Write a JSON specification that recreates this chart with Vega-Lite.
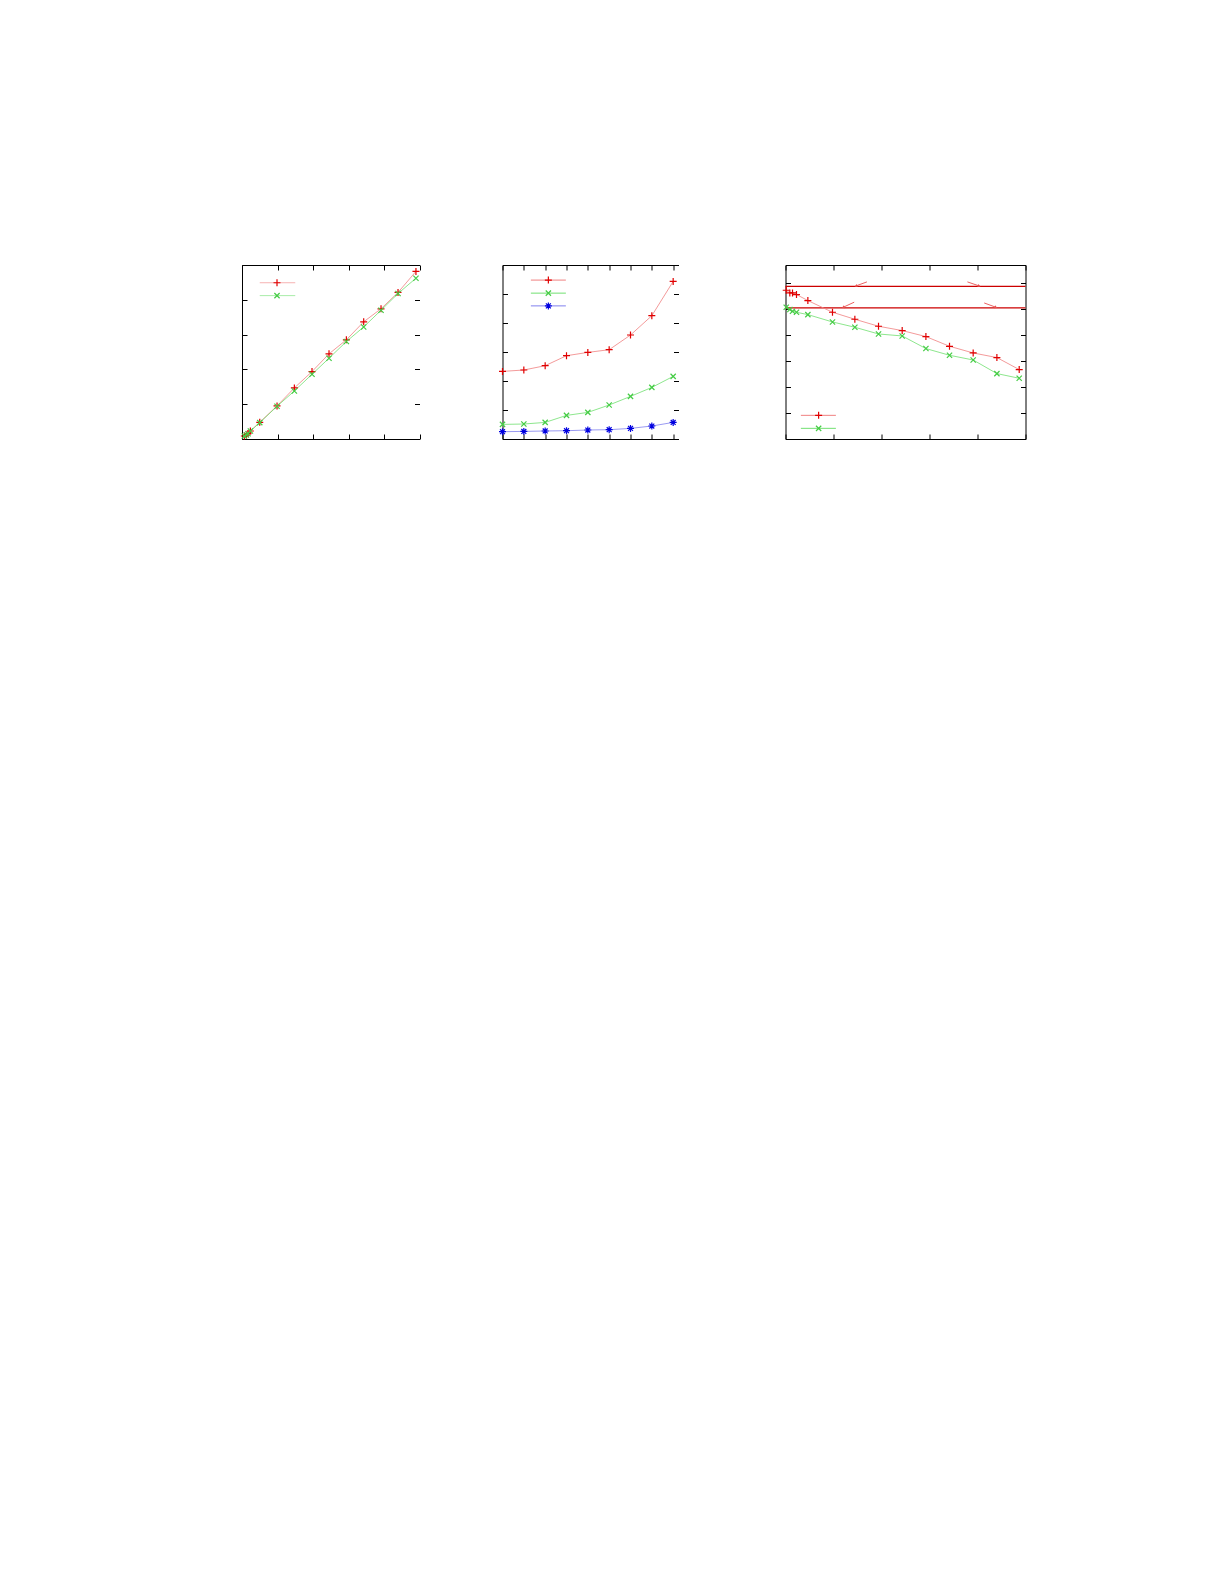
{
  "$schema": "https://vega.github.io/schema/vega-lite/v6.json",
  "padding": {"left": 238, "top": 264, "right": 0, "bottom": 0},
  "background": "white",
  "datasets": {
    "p1": [
      {"series": "a", "x": 0.066, "y": 0.086}, {"series": "a", "x": 0.123, "y": 0.115}, {"series": "a", "x": 0.17, "y": 0.153},
      {"series": "a", "x": 0.236, "y": 0.23}, {"series": "a", "x": 0.5, "y": 0.48}, {"series": "a", "x": 0.987, "y": 0.95},
      {"series": "a", "x": 1.475, "y": 1.468}, {"series": "a", "x": 1.972, "y": 1.937}, {"series": "a", "x": 2.451, "y": 2.447},
      {"series": "a", "x": 2.94, "y": 2.85}, {"series": "a", "x": 3.428, "y": 3.368}, {"series": "a", "x": 3.916, "y": 3.742},
      {"series": "a", "x": 4.395, "y": 4.211}, {"series": "a", "x": 4.9, "y": 4.816},
      {"series": "b", "x": 0.066, "y": 0.086}, {"series": "b", "x": 0.123, "y": 0.115}, {"series": "b", "x": 0.17, "y": 0.153},
      {"series": "b", "x": 0.236, "y": 0.23}, {"series": "b", "x": 0.5, "y": 0.47}, {"series": "b", "x": 0.987, "y": 0.94},
      {"series": "b", "x": 1.475, "y": 1.381}, {"series": "b", "x": 1.972, "y": 1.86}, {"series": "b", "x": 2.451, "y": 2.321},
      {"series": "b", "x": 2.94, "y": 2.8}, {"series": "b", "x": 3.428, "y": 3.22}, {"series": "b", "x": 3.916, "y": 3.7},
      {"series": "b", "x": 4.395, "y": 4.18}, {"series": "b", "x": 4.9, "y": 4.62}
    ],
    "l1": [
      {"series": "a", "x": 0.5, "x2": 1.5, "y": 4.49, "xm": 0.986},
      {"series": "b", "x": 0.5, "x2": 1.5, "y": 4.12, "xm": 0.986}
    ],
    "p2": [
      {"series": "a", "x": 0, "y": 2.331}, {"series": "a", "x": 1, "y": 2.379}, {"series": "a", "x": 2, "y": 2.528},
      {"series": "a", "x": 3, "y": 2.872}, {"series": "a", "x": 4, "y": 2.986}, {"series": "a", "x": 5, "y": 3.079},
      {"series": "a", "x": 6, "y": 3.586}, {"series": "a", "x": 7, "y": 4.252}, {"series": "a", "x": 8, "y": 5.434},
      {"series": "b", "x": 0, "y": 0.503}, {"series": "b", "x": 1, "y": 0.517}, {"series": "b", "x": 2, "y": 0.572},
      {"series": "b", "x": 3, "y": 0.814}, {"series": "b", "x": 4, "y": 0.917}, {"series": "b", "x": 5, "y": 1.172},
      {"series": "b", "x": 6, "y": 1.469}, {"series": "b", "x": 7, "y": 1.779}, {"series": "b", "x": 8, "y": 2.159},
      {"series": "c", "x": 0, "y": 0.252}, {"series": "c", "x": 1, "y": 0.262}, {"series": "c", "x": 2, "y": 0.276},
      {"series": "c", "x": 3, "y": 0.286}, {"series": "c", "x": 4, "y": 0.31}, {"series": "c", "x": 5, "y": 0.321},
      {"series": "c", "x": 6, "y": 0.366}, {"series": "c", "x": 7, "y": 0.448}, {"series": "c", "x": 8, "y": 0.572}
    ],
    "l2": [
      {"series": "a", "x": 1.33, "x2": 2.97, "y": 5.48, "xm": 2.15},
      {"series": "b", "x": 1.33, "x2": 2.97, "y": 5.03, "xm": 2.15},
      {"series": "c", "x": 1.33, "x2": 2.97, "y": 4.59, "xm": 2.15}
    ],
    "p3": [
      {"series": "a", "x": 0.015, "y": 5.72}, {"series": "a", "x": 0.09, "y": 5.615}, {"series": "a", "x": 0.146, "y": 5.615},
      {"series": "a", "x": 0.229, "y": 5.554}, {"series": "a", "x": 0.466, "y": 5.323}, {"series": "a", "x": 0.979, "y": 4.873},
      {"series": "a", "x": 1.445, "y": 4.604}, {"series": "a", "x": 1.938, "y": 4.335}, {"series": "a", "x": 2.431, "y": 4.169},
      {"series": "a", "x": 2.925, "y": 3.938}, {"series": "a", "x": 3.417, "y": 3.565}, {"series": "a", "x": 3.91, "y": 3.308},
      {"series": "a", "x": 4.404, "y": 3.131}, {"series": "a", "x": 4.869, "y": 2.669},
      {"series": "b", "x": 0.015, "y": 5.065}, {"series": "b", "x": 0.09, "y": 4.977}, {"series": "b", "x": 0.146, "y": 4.912},
      {"series": "b", "x": 0.229, "y": 4.873}, {"series": "b", "x": 0.466, "y": 4.783}, {"series": "b", "x": 0.979, "y": 4.5},
      {"series": "b", "x": 1.445, "y": 4.296}, {"series": "b", "x": 1.938, "y": 4.038}, {"series": "b", "x": 2.431, "y": 3.962},
      {"series": "b", "x": 2.925, "y": 3.477}, {"series": "b", "x": 3.417, "y": 3.219}, {"series": "b", "x": 3.91, "y": 3.038},
      {"series": "b", "x": 4.404, "y": 2.515}, {"series": "b", "x": 4.869, "y": 2.335}
    ],
    "l3": [
      {"series": "a", "x": 0.32, "x2": 1.05, "y": 0.91, "xm": 0.69},
      {"series": "b", "x": 0.32, "x2": 1.05, "y": 0.41, "xm": 0.69}
    ],
    "h3": [{"y": 5.87}, {"y": 5.04}],
    "a3": [
      {"x": 1.696, "y": 6.04, "x2": 1.467, "y2": 5.885},
      {"x": 3.79, "y": 6.04, "x2": 4.035, "y2": 5.885},
      {"x": 1.431, "y": 5.26, "x2": 1.202, "y2": 5.065},
      {"x": 4.14, "y": 5.23, "x2": 4.383, "y2": 5.065}
    ]
  },
  "bounds": "flush",
  "spacing": 82.5,
  "hconcat": [
    {
      "width": 177.5,
      "height": 174,
      "resolve": {"axis": {"x": "independent", "y": "independent"}},
      "layer": [
        {
          "data": {"name": "p1"},
          "mark": {"type": "line", "strokeWidth": 0.8},
          "encoding": {
            "x": {"field": "x", "type": "quantitative", "scale": {"domain": [0, 5], "nice": false, "zero": false},
              "axis": {"orient": "bottom", "title": null, "values": [0, 1, 2, 3, 4, 5]}},
            "y": {"field": "y", "type": "quantitative", "scale": {"domain": [0, 5], "nice": false, "zero": false},
              "axis": {"orient": "left", "title": null, "values": [0, 1, 2, 3, 4, 5]}},
            "stroke": {"field": "series", "type": "nominal", "legend": null,
              "scale": {"domain": ["a", "b", "c"], "range": ["#f08080", "#70e070", "#8080ee"]}}
          }
        },
        {
          "data": {"name": "p1"},
          "mark": {"type": "point", "filled": false, "size": 49, "strokeWidth": 1.2, "opacity": 1},
          "encoding": {
            "x": {"field": "x", "type": "quantitative", "scale": {"domain": [0, 5], "nice": false, "zero": false},
              "axis": {"orient": "top", "title": null, "values": [0, 1, 2, 3, 4, 5]}},
            "y": {"field": "y", "type": "quantitative", "scale": {"domain": [0, 5], "nice": false, "zero": false},
              "axis": {"orient": "right", "title": null, "domain": false, "values": [0, 1, 2, 3, 4, 5]}},
            "color": {"field": "series", "type": "nominal", "legend": null,
              "scale": {"domain": ["a", "b", "c"], "range": ["#e00000", "#44cc44", "#0000e0"]}},
            "shape": {"field": "series", "type": "nominal", "legend": null,
              "scale": {"domain": ["a", "b", "c"], "range": ["M-1,0L1,0M0,-1L0,1", "M-0.75,-0.75L0.75,0.75M-0.75,0.75L0.75,-0.75", "M-1,0L1,0M0,-1L0,1M-0.7,-0.7L0.7,0.7M-0.7,0.7L0.7,-0.7"]}}
          }
        },
        {
          "data": {"name": "l1"},
          "mark": {"type": "rule", "strokeWidth": 1, "opacity": 0.6},
          "encoding": {
            "x": {"field": "x", "type": "quantitative", "axis": null},
            "x2": {"field": "x2"},
            "y": {"field": "y", "type": "quantitative", "axis": null},
            "stroke": {"field": "series", "type": "nominal", "legend": null,
              "scale": {"domain": ["a", "b", "c"], "range": ["#f08080", "#70e070", "#8080ee"]}}
          }
        },
        {
          "data": {"name": "l1"},
          "mark": {"type": "point", "filled": false, "size": 49, "strokeWidth": 1.2, "opacity": 1},
          "encoding": {
            "x": {"field": "xm", "type": "quantitative", "axis": null},
            "y": {"field": "y", "type": "quantitative", "axis": null},
            "color": {"field": "series", "type": "nominal", "legend": null,
              "scale": {"domain": ["a", "b", "c"], "range": ["#e00000", "#44cc44", "#0000e0"]}},
            "shape": {"field": "series", "type": "nominal", "legend": null,
              "scale": {"domain": ["a", "b", "c"], "range": ["M-1,0L1,0M0,-1L0,1", "M-0.75,-0.75L0.75,0.75M-0.75,0.75L0.75,-0.75", "M-1,0L1,0M0,-1L0,1M-0.7,-0.7L0.7,0.7M-0.7,0.7L0.7,-0.7"]}}
          }
        }
      ]
    },
    {
      "bounds": "flush",
      "spacing": 107,
      "hconcat": [
        {
          "width": 176,
          "height": 174,
          "resolve": {"axis": {"x": "independent", "y": "independent"}},
          "layer": [
            {
              "data": {"name": "p2"},
              "mark": {"type": "line", "strokeWidth": 0.8},
              "encoding": {
                "x": {"field": "x", "type": "quantitative", "scale": {"domain": [0, 8.25], "nice": false, "zero": false},
                  "axis": {"orient": "bottom", "title": null, "values": [0, 1, 2, 3, 4, 5, 6, 7, 8]}},
                "y": {"field": "y", "type": "quantitative", "scale": {"domain": [0, 6], "nice": false, "zero": false},
                  "axis": {"orient": "left", "title": null, "values": [0, 1, 2, 3, 4, 5, 6]}},
                "stroke": {"field": "series", "type": "nominal", "legend": null,
                  "scale": {"domain": ["a", "b", "c"], "range": ["#f08080", "#70e070", "#8080ee"]}}
              }
            },
            {
              "data": {"name": "p2"},
              "mark": {"type": "point", "filled": false, "size": 49, "strokeWidth": 1.2, "opacity": 1},
              "encoding": {
                "x": {"field": "x", "type": "quantitative", "scale": {"domain": [0, 8.25], "nice": false, "zero": false},
                  "axis": {"orient": "top", "title": null, "values": [0, 1, 2, 3, 4, 5, 6, 7, 8]}},
                "y": {"field": "y", "type": "quantitative", "scale": {"domain": [0, 6], "nice": false, "zero": false},
                  "axis": {"orient": "right", "title": null, "domain": false, "values": [0, 1, 2, 3, 4, 5, 6]}},
                "color": {"field": "series", "type": "nominal", "legend": null,
                  "scale": {"domain": ["a", "b", "c"], "range": ["#e00000", "#44cc44", "#0000e0"]}},
                "shape": {"field": "series", "type": "nominal", "legend": null,
                  "scale": {"domain": ["a", "b", "c"], "range": ["M-1,0L1,0M0,-1L0,1", "M-0.75,-0.75L0.75,0.75M-0.75,0.75L0.75,-0.75", "M-1,0L1,0M0,-1L0,1M-0.7,-0.7L0.7,0.7M-0.7,0.7L0.7,-0.7"]}}
              }
            },
            {
              "data": {"name": "l2"},
              "mark": {"type": "rule", "strokeWidth": 1},
              "encoding": {
                "x": {"field": "x", "type": "quantitative", "axis": null},
                "x2": {"field": "x2"},
                "y": {"field": "y", "type": "quantitative", "axis": null},
                "stroke": {"field": "series", "type": "nominal", "legend": null,
                  "scale": {"domain": ["a", "b", "c"], "range": ["#f08080", "#70e070", "#8080ee"]}}
              }
            },
            {
              "data": {"name": "l2"},
              "mark": {"type": "point", "filled": false, "size": 49, "strokeWidth": 1.2, "opacity": 1},
              "encoding": {
                "x": {"field": "xm", "type": "quantitative", "axis": null},
                "y": {"field": "y", "type": "quantitative", "axis": null},
                "color": {"field": "series", "type": "nominal", "legend": null,
                  "scale": {"domain": ["a", "b", "c"], "range": ["#e00000", "#44cc44", "#0000e0"]}},
                "shape": {"field": "series", "type": "nominal", "legend": null,
                  "scale": {"domain": ["a", "b", "c"], "range": ["M-1,0L1,0M0,-1L0,1", "M-0.75,-0.75L0.75,0.75M-0.75,0.75L0.75,-0.75", "M-1,0L1,0M0,-1L0,1M-0.7,-0.7L0.7,0.7M-0.7,0.7L0.7,-0.7"]}}
              }
            }
          ]
        },
        {
          "width": 240,
          "height": 174,
          "resolve": {"axis": {"x": "independent", "y": "independent"}},
          "layer": [
            {
              "data": {"name": "h3"},
              "mark": {"type": "rule", "color": "#cc0000", "strokeWidth": 1.3},
              "encoding": {
                "y": {"field": "y", "type": "quantitative", "axis": null}
              }
            },
            {
              "data": {"name": "a3"},
              "mark": {"type": "rule", "color": "#e85050", "strokeWidth": 0.9},
              "encoding": {
                "x": {"field": "x", "type": "quantitative", "axis": null},
                "x2": {"field": "x2"},
                "y": {"field": "y", "type": "quantitative", "axis": null},
                "y2": {"field": "y2"}
              }
            },
            {
              "data": {"name": "a3"},
              "transform": [{"filter": "datum.x2 < datum.x"}],
              "mark": {"type": "point", "shape": "triangle-up", "filled": true, "size": 10, "angle": 250, "color": "#e85050", "opacity": 1},
              "encoding": {
                "x": {"field": "x2", "type": "quantitative", "axis": null},
                "y": {"field": "y2", "type": "quantitative", "axis": null}
              }
            },
            {
              "data": {"name": "a3"},
              "transform": [{"filter": "datum.x2 > datum.x"}],
              "mark": {"type": "point", "shape": "triangle-up", "filled": true, "size": 10, "angle": 110, "color": "#e85050", "opacity": 1},
              "encoding": {
                "x": {"field": "x2", "type": "quantitative", "axis": null},
                "y": {"field": "y2", "type": "quantitative", "axis": null}
              }
            },
            {
              "data": {"name": "p3"},
              "mark": {"type": "line", "strokeWidth": 0.8},
              "encoding": {
                "x": {"field": "x", "type": "quantitative", "scale": {"domain": [0, 5], "nice": false, "zero": false},
                  "axis": {"orient": "bottom", "title": null, "values": [0, 1, 2, 3, 4, 5]}},
                "y": {"field": "y", "type": "quantitative", "scale": {"domain": [0, 6.69], "nice": false, "zero": false},
                  "axis": {"orient": "left", "title": null, "values": [0, 1, 2, 3, 4, 5, 6]}},
                "stroke": {"field": "series", "type": "nominal", "legend": null,
                  "scale": {"domain": ["a", "b", "c"], "range": ["#f08080", "#70e070", "#8080ee"]}}
              }
            },
            {
              "data": {"name": "p3"},
              "mark": {"type": "point", "filled": false, "size": 49, "strokeWidth": 1.2, "opacity": 1},
              "encoding": {
                "x": {"field": "x", "type": "quantitative", "scale": {"domain": [0, 5], "nice": false, "zero": false},
                  "axis": {"orient": "top", "title": null, "values": [0, 1, 2, 3, 4, 5]}},
                "y": {"field": "y", "type": "quantitative", "scale": {"domain": [0, 6.69], "nice": false, "zero": false},
                  "axis": {"orient": "right", "title": null, "values": [0, 1, 2, 3, 4, 5, 6]}},
                "color": {"field": "series", "type": "nominal", "legend": null,
                  "scale": {"domain": ["a", "b", "c"], "range": ["#e00000", "#44cc44", "#0000e0"]}},
                "shape": {"field": "series", "type": "nominal", "legend": null,
                  "scale": {"domain": ["a", "b", "c"], "range": ["M-1,0L1,0M0,-1L0,1", "M-0.75,-0.75L0.75,0.75M-0.75,0.75L0.75,-0.75", "M-1,0L1,0M0,-1L0,1M-0.7,-0.7L0.7,0.7M-0.7,0.7L0.7,-0.7"]}}
              }
            },
            {
              "data": {"name": "l3"},
              "mark": {"type": "rule", "strokeWidth": 1},
              "encoding": {
                "x": {"field": "x", "type": "quantitative", "axis": null},
                "x2": {"field": "x2"},
                "y": {"field": "y", "type": "quantitative", "axis": null},
                "stroke": {"field": "series", "type": "nominal", "legend": null,
                  "scale": {"domain": ["a", "b", "c"], "range": ["#f08080", "#70e070", "#8080ee"]}}
              }
            },
            {
              "data": {"name": "l3"},
              "mark": {"type": "point", "filled": false, "size": 49, "strokeWidth": 1.2, "opacity": 1},
              "encoding": {
                "x": {"field": "xm", "type": "quantitative", "axis": null},
                "y": {"field": "y", "type": "quantitative", "axis": null},
                "color": {"field": "series", "type": "nominal", "legend": null,
                  "scale": {"domain": ["a", "b", "c"], "range": ["#e00000", "#44cc44", "#0000e0"]}},
                "shape": {"field": "series", "type": "nominal", "legend": null,
                  "scale": {"domain": ["a", "b", "c"], "range": ["M-1,0L1,0M0,-1L0,1", "M-0.75,-0.75L0.75,0.75M-0.75,0.75L0.75,-0.75", "M-1,0L1,0M0,-1L0,1M-0.7,-0.7L0.7,0.7M-0.7,0.7L0.7,-0.7"]}}
              }
            }
          ]
        }
      ]
    }
  ],
  "config": {
    "view": {"stroke": null},
    "axis": {
      "labels": false,
      "grid": false,
      "tickSize": -5,
      "domainColor": "#000000",
      "tickColor": "#000000",
      "domainWidth": 1,
      "tickWidth": 1
    }
  }
}
